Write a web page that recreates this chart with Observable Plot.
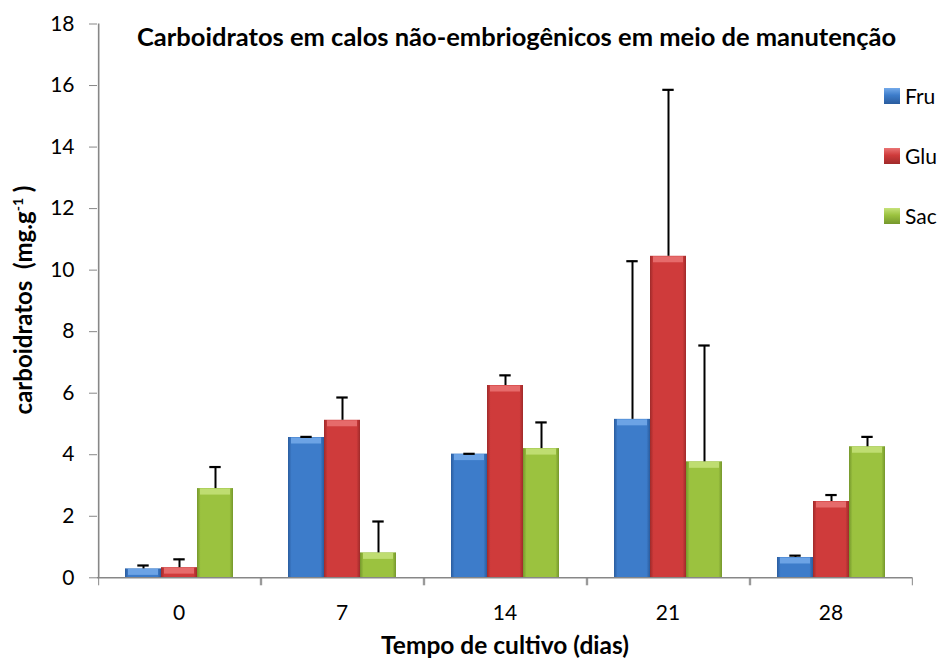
<!DOCTYPE html>
<html><head><meta charset="utf-8">
<script src="https://cdn.jsdelivr.net/npm/d3@7"></script>
<script src="https://cdn.jsdelivr.net/npm/@observablehq/plot@0.6"></script>
<style>
body{margin:0;background:#fff;font-family:Lato,"Open Sans",sans-serif;}
#chart{position:relative;width:943px;height:664px;overflow:hidden;}
#chart svg{position:absolute;left:0;top:0;}
.ttl{position:absolute;white-space:nowrap;font-weight:bold;color:#000;line-height:30px;}
#title{left:137px;top:21px;font-size:25.5px;}
#ytitle{left:23px;top:300px;font-size:24px;transform:translate(-50%,-50%) rotate(-90deg);}
#ytitle sup{font-size:14px;line-height:0;}
#xtitle{left:505px;top:630px;font-size:24.5px;transform:translateX(-50%);}
.legend{position:absolute;left:884px;top:88px;font-size:21px;}
.item{position:absolute;left:0;height:16px;line-height:16px;white-space:nowrap;}
.sw{display:inline-block;width:16px;height:16px;vertical-align:top;margin-right:5px;}
</style></head><body>
<div id="chart"></div>
<script>
// ---- data ----
const days = ["0", "7", "14", "21", "28"];
const seriesNames = ["Fru", "Glu", "Sac"];
const fruValues = [0.29, 4.56, 4.02, 5.15, 0.66];
const fruErrors = [0.11, 0.02, 0.01, 5.14, 0.06];
const gluValues = [0.33, 5.12, 6.25, 10.45, 2.48];
const gluErrors = [0.27, 0.74, 0.33, 5.41, 0.21];
const sacValues = [2.90, 0.81, 4.20, 3.77, 4.26];
const sacErrors = [0.70, 1.02, 0.85, 3.78, 0.32];
const yTicks = [0, 2, 4, 6, 8, 10, 12, 14, 16, 18];
const titleText = "Carboidratos em calos não-embriogênicos em meio de manutenção";
const xTitle = "Tempo de cultivo (dias)";

// ---- styling ----
const baseColors = {Fru: "#3d7cca", Glu: "#cf3b3b", Sac: "#9bc23f"};
const edgeColors = {Fru: "#2a5c9e", Glu: "#9f2a2a", Sac: "#75972c"};
const lightColors = {Fru: "#74aaea", Glu: "#ea7474", Sac: "#c6e27a"};

const valuesBySeries = {Fru: fruValues, Glu: gluValues, Sac: sacValues};
const errorsBySeries = {Fru: fruErrors, Glu: gluErrors, Sac: sacErrors};
const rows = [];
days.forEach((day, i) => {
  seriesNames.forEach(s => {
    const v = valuesBySeries[s][i], e = errorsBySeries[s][i];
    rows.push({day, series: s, value: v, top: v + e});
  });
});

const W = 943, H = 664;
const mL = 97, mR = 31, mT = 23.5, mB = 86.7;
const xPadOuter = 0.7225;
const facetStep = (W - mL - mR) / days.length;
const barStep = facetStep / (3 + 2 * xPadOuter);
const edgeOffset = xPadOuter * barStep + barStep / 2;
const gray = "#878787";

const plot = Plot.plot({
  width: W, height: H,
  marginLeft: mL, marginRight: mR, marginTop: mT, marginBottom: mB,
  style: {fontFamily: "Lato, 'Open Sans', sans-serif", background: "white", color: "black"},
  fx: {domain: days, padding: 0, label: null},
  x: {domain: seriesNames, paddingInner: 0, paddingOuter: xPadOuter, axis: null},
  y: {domain: [0, 18], axis: null},
  color: {domain: seriesNames, range: seriesNames.map(s => `url(#grad-${s})`)},
  marks: [
    Plot.barY(rows, {fx: "day", x: "series", y: "value", fill: "series"}),
    ...seriesNames.map(s => Plot.tickY(rows, {
      filter: d => d.series === s, fx: "day", x: "series", y: "value",
      stroke: lightColors[s], strokeWidth: 6, dy: 3, insetLeft: 3, insetRight: 3, strokeOpacity: 0.85
    })),
    Plot.ruleX(rows, {fx: "day", x: "series", y1: "value", y2: "top", stroke: "black", strokeWidth: 2}),
    Plot.tickY(rows, {fx: "day", x: "series", y: "top", stroke: "black", strokeWidth: 2.2, insetLeft: 12.3, insetRight: 12.3}),
    Plot.ruleY([0], {stroke: gray, strokeWidth: 1.6}),
    Plot.ruleX([days[0]], {fx: d => d, x: () => seriesNames[0], dx: -edgeOffset, y1: 0, y2: 18, stroke: gray, strokeWidth: 1.6}),
    Plot.axisY({ticks: yTicks, tickSize: 8, tickPadding: 15, fontSize: 21, label: null, stroke: gray, fill: "black"}),
    Plot.axisFx({anchor: "bottom", tickSize: 0, tickPadding: 27, fontSize: 21, label: null, fill: "black"}),
    Plot.axisX([seriesNames[0]], {tickSize: 8, tickFormat: () => "", dx: -edgeOffset, stroke: gray, label: null}),
    Plot.axisX([seriesNames[2]], {tickSize: 8, tickFormat: () => "", dx: edgeOffset, stroke: gray, label: null})
  ]
});

// gradients for the bevelled bars
const svg = d3.select(plot);
const defs = svg.insert("defs", ":first-child");
seriesNames.forEach(s => {
  const g = defs.append("linearGradient").attr("id", `grad-${s}`).attr("x1", 0).attr("x2", 1).attr("y1", 0).attr("y2", 0);
  g.append("stop").attr("offset", 0).attr("stop-color", edgeColors[s]);
  g.append("stop").attr("offset", 0.1).attr("stop-color", baseColors[s]);
  g.append("stop").attr("offset", 0.9).attr("stop-color", baseColors[s]);
  g.append("stop").attr("offset", 1).attr("stop-color", edgeColors[s]);
});

const chart = document.getElementById("chart");
chart.appendChild(plot);

const t = document.createElement("div"); t.className = "ttl"; t.id = "title"; t.textContent = titleText; chart.appendChild(t);
const yt = document.createElement("div"); yt.className = "ttl"; yt.id = "ytitle";
yt.innerHTML = "carboidratos&nbsp; (mg.g<sup>-1</sup> )"; chart.appendChild(yt);
const xt = document.createElement("div"); xt.className = "ttl"; xt.id = "xtitle"; xt.textContent = xTitle; chart.appendChild(xt);

const legend = document.createElement("div"); legend.className = "legend";
seriesNames.forEach((s, i) => {
  const it = document.createElement("div"); it.className = "item"; it.style.top = (i * 60) + "px";
  const sw = document.createElement("span"); sw.className = "sw";
  sw.style.background = `linear-gradient(to bottom, ${lightColors[s]} 0%, ${baseColors[s]} 45%, ${edgeColors[s]} 100%)`;
  it.appendChild(sw); it.appendChild(document.createTextNode(s));
  legend.appendChild(it);
});
chart.appendChild(legend);
</script>
</body></html>
